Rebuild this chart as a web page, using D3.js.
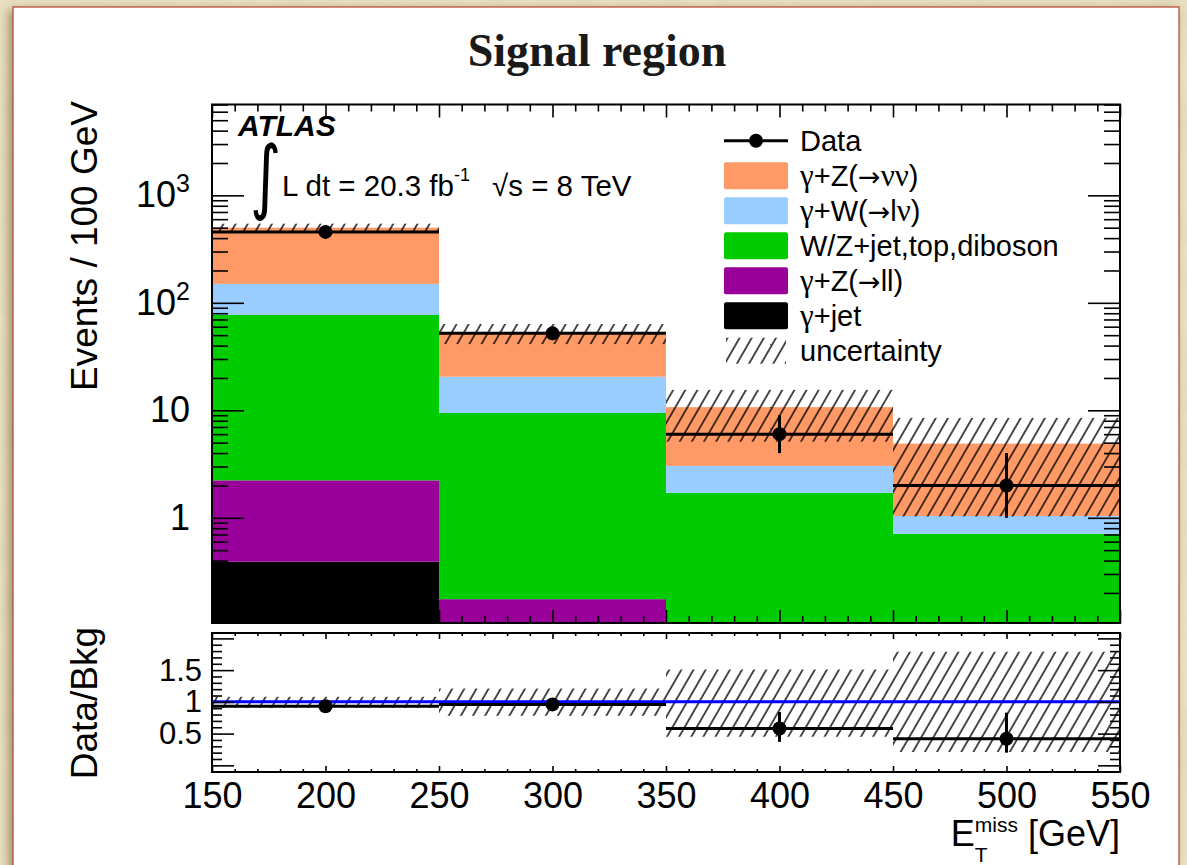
<!DOCTYPE html>
<html><head><meta charset="utf-8">
<script src="https://cdn.jsdelivr.net/npm/d3@7"></script>
<style>body{margin:0;background:#ebe2c3;} svg{display:block}</style>
</head><body><svg id="c" width="1187" height="865"></svg>
<script>
// ---------------- data ----------------
const binLow = [150, 250, 350, 450];
const binHigh = [250, 350, 450, 550];
const binCenters = [200, 300, 400, 500];
const gammaJet = [0.39, 0, 0, 0];
const gammaZll = [1.84, 0.175, 0, 0];
const wzJetTopDiboson = [74.8, 9.27, 1.71, 0.71];
const gammaWlnu = [73, 11.1, 1.33, 0.33];
const gammaZnunu = [350, 32.6, 7.66, 3.86];
const dataValues = [457, 52, 6, 2];
const dataErrUp = [21, 7, 3.0, 2.0];
const dataErrDown = [21, 7, 2.0, 1.0];
const uncLow = [455, 41.3, 5.1, 1.03];
const uncHigh = [545, 63.5, 15.5, 8.5];
const ratioValues = [0.93, 0.96, 0.58, 0.42];
const ratioErrUp = [0.03, 0.1, 0.26, 0.41];
const ratioErrDown = [0.03, 0.1, 0.21, 0.22];
const ratioUncLow = [0.905, 0.78, 0.45, 0.21];
const ratioUncHigh = [1.08, 1.21, 1.51, 1.79];
const stackKeys = ["gammaJet", "gammaZll", "wzJetTopDiboson", "gammaWlnu", "gammaZnunu"];
const stackColors = ["#000000", "#990099", "#00cc00", "#99ccff", "#ff9966"];
const legendLabels = ["Data", "γ+Z(→νν)", "γ+W(→lν)", "W/Z+jet,top,diboson", "γ+Z(→ll)", "γ+jet", "uncertainty"];
const legendKinds = ["data", "gammaZnunu", "gammaWlnu", "wzJetTopDiboson", "gammaZll", "gammaJet", "unc"];
const xTickLabels = [150, 200, 250, 300, 350, 400, 450, 500, 550];
const yTickLabels = [1, 10, 100, 1000];
const ratioTickLabels = [0.5, 1, 1.5];

// ---------------- setup ----------------
const FONT = "'Liberation Sans', Arial, Helvetica, sans-serif";
const svg = d3.select("#c");
const defs = svg.append("defs");

const tex = defs.append("filter").attr("id", "paper").attr("x", 0).attr("y", 0).attr("width", 1).attr("height", 1);
tex.append("feTurbulence").attr("type", "fractalNoise").attr("baseFrequency", 0.035).attr("numOctaves", 3).attr("seed", 4).attr("result", "n");
tex.append("feColorMatrix").attr("type", "matrix")
  .attr("values", "0 0 0 0 0.55  0 0 0 0 0.48  0 0 0 0 0.30  0 0 0 0.22 0");
const sh = defs.append("filter").attr("id", "shadow").attr("x", -0.05).attr("y", -0.05).attr("width", 1.1).attr("height", 1.1);
sh.append("feDropShadow").attr("dx", -4).attr("dy", 3).attr("stdDeviation", 5).attr("flood-color", "#6b5a2a").attr("flood-opacity", 0.55);

const hatch = defs.append("pattern").attr("id", "hatch").attr("patternUnits", "userSpaceOnUse")
  .attr("width", 10.5).attr("height", 10).attr("patternTransform", "rotate(30)");
hatch.append("line").attr("x1", 1).attr("y1", 0).attr("x2", 1).attr("y2", 10).attr("stroke", "#000").attr("stroke-width", 1.4);

// background
svg.append("rect").attr("width", 1187).attr("height", 865).attr("fill", "#ece3c5");
svg.append("rect").attr("width", 1187).attr("height", 865).attr("filter", "url(#paper)");
svg.append("rect").attr("x", 13).attr("y", 7).attr("width", 1166).attr("height", 880)
  .attr("fill", "#fff").attr("stroke", "#b4503a").attr("stroke-width", 1.3).attr("filter", "url(#shadow)");

// title
svg.append("text").attr("x", 597).attr("y", 66).attr("text-anchor", "middle")
  .attr("font-family", "'Liberation Serif', 'Times New Roman', serif").attr("font-weight", "bold")
  .attr("font-size", 46).attr("fill", "#1a1a1a").text("Signal region");

// ---------------- scales ----------------
const L = 212, R = 1120, T = 104.5, B = 623, RT = 633, RB = 772;
const x = d3.scaleLinear().domain([150, 550]).range([L, R]);
const y = d3.scaleLog().domain([0.105, 7000]).range([B, T]);
const yr = d3.scaleLinear().domain([-0.105, 2.085]).range([RB, RT]);

defs.append("clipPath").attr("id", "clipTop").append("rect").attr("x", L).attr("y", T).attr("width", R - L).attr("height", B - T);
defs.append("clipPath").attr("id", "clipRat").append("rect").attr("x", L).attr("y", RT).attr("width", R - L).attr("height", RB - RT);

// ---------------- upper panel ----------------
const rows = binCenters.map((c, i) => ({
  i, gammaJet: gammaJet[i], gammaZll: gammaZll[i], wzJetTopDiboson: wzJetTopDiboson[i],
  gammaWlnu: gammaWlnu[i], gammaZnunu: gammaZnunu[i]
}));
const stacked = d3.stack().keys(stackKeys)(rows);
const ymin = y.domain()[0];
const upper = svg.append("g").attr("clip-path", "url(#clipTop)");
stacked.forEach((layer, k) => {
  upper.append("g").attr("fill", stackColors[k]).selectAll("rect")
    .data(layer.filter(d => d[1] > ymin && d[1] > d[0]))
    .join("rect")
    .attr("x", d => x(binLow[d.data.i]))
    .attr("width", d => x(binHigh[d.data.i]) - x(binLow[d.data.i]))
    .attr("y", d => y(d[1]))
    .attr("height", d => y(Math.max(d[0], ymin)) - y(d[1]));
});
// uncertainty hatch
upper.append("g").selectAll("rect").data(binCenters.map((c, i) => i)).join("rect")
  .attr("x", i => x(binLow[i])).attr("width", i => x(binHigh[i]) - x(binLow[i]))
  .attr("y", i => y(uncHigh[i])).attr("height", i => y(uncLow[i]) - y(uncHigh[i]))
  .attr("fill", "url(#hatch)");
// data
const dg = upper.append("g");
binCenters.forEach((c, i) => {
  dg.append("line").attr("x1", x(binLow[i])).attr("x2", x(binHigh[i]))
    .attr("y1", y(dataValues[i])).attr("y2", y(dataValues[i])).attr("stroke", "#000").attr("stroke-width", 3);
  dg.append("line").attr("x1", x(c)).attr("x2", x(c))
    .attr("y1", y(dataValues[i] + dataErrUp[i])).attr("y2", y(Math.max(dataValues[i] - dataErrDown[i], ymin)))
    .attr("stroke", "#000").attr("stroke-width", 3);
  dg.append("circle").attr("cx", x(c)).attr("cy", y(dataValues[i])).attr("r", 7).attr("fill", "#000");
});

// ---------------- ratio panel ----------------
const rat = svg.append("g").attr("clip-path", "url(#clipRat)");
rat.append("g").selectAll("rect").data(binCenters.map((c, i) => i)).join("rect")
  .attr("x", i => x(binLow[i])).attr("width", i => x(binHigh[i]) - x(binLow[i]))
  .attr("y", i => yr(ratioUncHigh[i])).attr("height", i => yr(ratioUncLow[i]) - yr(ratioUncHigh[i]))
  .attr("fill", "url(#hatch)");
rat.append("line").attr("x1", L).attr("x2", R).attr("y1", yr(1)).attr("y2", yr(1))
  .attr("stroke", "#0000ff").attr("stroke-width", 3);
binCenters.forEach((c, i) => {
  rat.append("line").attr("x1", x(binLow[i])).attr("x2", x(binHigh[i]))
    .attr("y1", yr(ratioValues[i])).attr("y2", yr(ratioValues[i])).attr("stroke", "#000").attr("stroke-width", 3);
  rat.append("line").attr("x1", x(c)).attr("x2", x(c))
    .attr("y1", yr(ratioValues[i] + ratioErrUp[i])).attr("y2", yr(ratioValues[i] - ratioErrDown[i]))
    .attr("stroke", "#000").attr("stroke-width", 3);
  rat.append("circle").attr("cx", x(c)).attr("cy", yr(ratioValues[i])).attr("r", 7).attr("fill", "#000");
});

// ---------------- axes ----------------
function styleAxis(g, fs) {
  g.select(".domain").remove();
  g.selectAll(".tick line").attr("stroke", "#000").attr("stroke-width", 1.6);
  g.selectAll("text").attr("font-family", FONT).attr("font-size", fs || 36).attr("fill", "#000");
  return g;
}
const xMinor = d3.range(150, 551, 10).filter(v => v % 50 !== 0);
const xMajor = d3.range(150, 551, 50);
const yMinor = [];
for (let e = -1; e <= 3; e++) for (let m = 2; m <= 9; m++) {
  const v = m * Math.pow(10, e);
  if (v >= 0.105 && v <= 7000) yMinor.push(v);
}
const rMinor = d3.range(-1, 21).map(v => v / 10).filter(v => Math.abs(v * 2 - Math.round(v * 2)) > 1e-6);
const rMajor = [0, 0.5, 1, 1.5, 2];

// upper left
const yl = svg.append("g").attr("transform", `translate(${L},0)`)
  .call(d3.axisLeft(y).tickValues(yTickLabels).tickSize(-32).tickPadding(22).tickFormat(d => d));
styleAxis(yl);
yl.selectAll("text").each(function (d) {
  const t = d3.select(this);
  if (d >= 100) {
    t.text("");
    t.append("tspan").text("10");
    t.append("tspan").attr("font-size", 25).attr("dy", -15).text(Math.round(Math.log10(d)));
  }
});
styleAxis(svg.append("g").attr("transform", `translate(${L},0)`).call(d3.axisLeft(y).tickValues(yMinor).tickSize(-16).tickFormat("")));
styleAxis(svg.append("g").attr("transform", `translate(${R},0)`).call(d3.axisRight(y).tickValues(yTickLabels).tickSize(-32).tickFormat("")));
styleAxis(svg.append("g").attr("transform", `translate(${R},0)`).call(d3.axisRight(y).tickValues(yMinor).tickSize(-16).tickFormat("")));
styleAxis(svg.append("g").attr("transform", `translate(0,${T})`).call(d3.axisTop(x).tickValues(xMajor).tickSize(-13).tickFormat("")));
styleAxis(svg.append("g").attr("transform", `translate(0,${T})`).call(d3.axisTop(x).tickValues(xMinor).tickSize(-7).tickFormat("")));
styleAxis(svg.append("g").attr("transform", `translate(0,${B})`).call(d3.axisBottom(x).tickValues(xMajor).tickSize(-13).tickFormat("")));
styleAxis(svg.append("g").attr("transform", `translate(0,${B})`).call(d3.axisBottom(x).tickValues(xMinor).tickSize(-7).tickFormat("")));

// ratio axes
styleAxis(svg.append("g").attr("transform", `translate(${L},0)`)
  .call(d3.axisLeft(yr).tickValues(rMajor).tickSize(-22).tickPadding(10)
    .tickFormat(d => ratioTickLabels.includes(d) ? String(d) : "")), 31);
styleAxis(svg.append("g").attr("transform", `translate(${L},0)`).call(d3.axisLeft(yr).tickValues(rMinor).tickSize(-10).tickFormat("")));
styleAxis(svg.append("g").attr("transform", `translate(${R},0)`).call(d3.axisRight(yr).tickValues(rMajor).tickSize(-22).tickFormat("")));
styleAxis(svg.append("g").attr("transform", `translate(${R},0)`).call(d3.axisRight(yr).tickValues(rMinor).tickSize(-10).tickFormat("")));
styleAxis(svg.append("g").attr("transform", `translate(0,${RT})`).call(d3.axisTop(x).tickValues(xMajor).tickSize(-6).tickFormat("")));
styleAxis(svg.append("g").attr("transform", `translate(0,${RT})`).call(d3.axisTop(x).tickValues(xMinor).tickSize(-3).tickFormat("")));
styleAxis(svg.append("g").attr("transform", `translate(0,${RB})`)
  .call(d3.axisBottom(x).tickValues(xTickLabels).tickSize(-6).tickPadding(10).tickFormat(d => d)));
styleAxis(svg.append("g").attr("transform", `translate(0,${RB})`).call(d3.axisBottom(x).tickValues(xMinor).tickSize(-3).tickFormat("")));

// frames
svg.append("rect").attr("x", L).attr("y", T).attr("width", R - L).attr("height", B - T)
  .attr("fill", "none").attr("stroke", "#000").attr("stroke-width", 2);
svg.append("rect").attr("x", L).attr("y", RT).attr("width", R - L).attr("height", RB - RT)
  .attr("fill", "none").attr("stroke", "#000").attr("stroke-width", 2);

// axis titles
svg.append("text").attr("transform", "translate(97,101) rotate(-90)").attr("text-anchor", "end")
  .attr("font-family", FONT).attr("font-size", 37).text("Events / 100 GeV");
svg.append("text").attr("transform", "translate(97,627) rotate(-90)").attr("text-anchor", "end")
  .attr("font-family", FONT).attr("font-size", 37).text("Data/Bkg");
const xt = svg.append("text").attr("x", R).attr("y", 846).attr("text-anchor", "end")
  .attr("font-family", FONT).attr("font-size", 36);
xt.append("tspan").text("E");
xt.append("tspan").attr("font-size", 21).attr("dy", -14).text("miss");
xt.append("tspan").attr("dy", 14).text(" [GeV]");
const tx = xt.node().getStartPositionOfChar(1).x;
svg.append("text").attr("x", tx).attr("y", 862).attr("font-family", FONT).attr("font-size", 21).text("T");

// ATLAS label
svg.append("text").attr("x", 238).attr("y", 136).attr("font-family", FONT).attr("font-weight", "bold")
  .attr("font-style", "italic").attr("font-size", 30).text("ATLAS");
svg.append("text").attr("transform", "translate(250,203.5) scale(1,1.36)").attr("font-family", "'DejaVu Sans', sans-serif")
  .attr("font-size", 60).text("∫");
const lumi = svg.append("text").attr("x", 282).attr("y", 196).attr("font-family", FONT).attr("font-size", 29.5);
lumi.append("tspan").text("L dt = 20.3 fb");
lumi.append("tspan").attr("font-size", 18).attr("dy", -15).text("-1");
svg.append("text").attr("x", 492).attr("y", 196).attr("font-family", FONT).attr("font-size", 29.5).text("√s = 8 TeV");

// legend
const lg = svg.append("g").attr("font-family", FONT).attr("font-size", 29);
legendLabels.forEach((lab, i) => {
  const cy = 140.7 + i * 35.0;
  const kind = legendKinds[i];
  if (kind === "data") {
    lg.append("line").attr("x1", 724).attr("x2", 788).attr("y1", cy).attr("y2", cy).attr("stroke", "#000").attr("stroke-width", 3);
    lg.append("circle").attr("cx", 756).attr("cy", cy).attr("r", 7).attr("fill", "#000");
  } else if (kind === "unc") {
    lg.append("rect").attr("x", 726).attr("y", cy - 13).attr("width", 60).attr("height", 26).attr("fill", "url(#hatch)");
  } else {
    lg.append("rect").attr("x", 724).attr("y", cy - 13.5).attr("width", 64).attr("height", 27).attr("rx", 2)
      .attr("fill", stackColors[stackKeys.indexOf(kind)]);
  }
  const t = lg.append("text").attr("x", 800).attr("y", cy).attr("dy", "0.36em");
  // split label into runs so greek letters and arrows use a symbol-like face
  const runs = lab.match(/[γν]+|→|[^γν→]+/g);
  runs.forEach(r => {
    const sp = t.append("tspan").text(r);
    if (r === "→") sp.attr("font-family", "'DejaVu Sans', sans-serif").attr("font-size", 27);
    else if (/[γν]/.test(r)) sp.attr("font-family", "'Liberation Serif', serif").attr("font-size", 31);
  });
});
</script></body></html>
